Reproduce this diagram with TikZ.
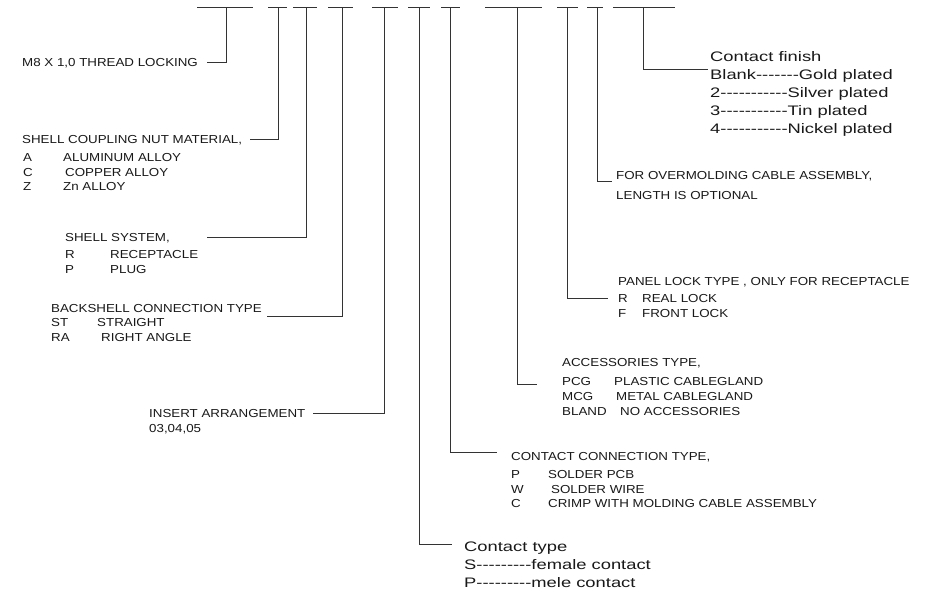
\documentclass[tikz,border=0pt]{standalone}
\usepackage{fontspec}
\newfontfamily\smf[FakeStretch=1.15]{Liberation Sans}
\newfontfamily\bgf[FakeStretch=1.33]{Liberation Sans}
\begin{document}
\begin{tikzpicture}[x=1pt,y=-1pt,
  lbl/.style={anchor=base west,inner sep=0pt,font=\smf\fontsize{11.6}{14}\selectfont,text=black!90},
  big/.style={anchor=base west,inner sep=0pt,font=\bgf\fontsize{13.8}{17}\selectfont,text=black!90},
  ln/.style={draw=black!80,line width=0.8pt}]
\useasboundingbox (0,0) rectangle (941,590);
\fill[white] (0,0) rectangle (941,590);
% top bars
\foreach \a/\b in {197/253,268/287,293/317,328/353,372/398,408/430,441/460,485/542,557/578,587/603,613/675}
  \draw[ln] (\a,7) -- (\b,7);
% stem tops
\coordinate (s1) at (226,7);
\coordinate (s2) at (278,7);
\coordinate (s3) at (306,7);
\coordinate (s4) at (342,7);
\coordinate (s5) at (384,7);
\coordinate (s6) at (419,7);
\coordinate (s7) at (450,7);
\coordinate (s8) at (517,7);
\coordinate (s9) at (567,7);
\coordinate (s10) at (597,7);
\coordinate (s11) at (643,7);
% ends
\coordinate (e1) at (207,62);
\coordinate (e2) at (250,139);
\coordinate (e3) at (207,237);
\coordinate (e4) at (267,316);
\coordinate (e5) at (313,413);
\coordinate (e6) at (452,544);
\coordinate (e7) at (497,452);
\coordinate (e8) at (537,384);
\coordinate (e9) at (608,298);
\coordinate (e10) at (612,181);
\coordinate (e11) at (708,69);
\foreach \i in {1,...,11} \draw[ln] (s\i) |- (e\i);
% labels group 1
\node[lbl] (m8) at (22,66) {M8 X 1,0 THREAD LOCKING};
\node[lbl] (scn) at (22,143) {SHELL COUPLING NUT MATERIAL,};
\node[lbl] (a1) at (23,161) {A};
\node[lbl] (a2) at (63,161) {ALUMINUM ALLOY};
\node[lbl] (c1) at (23,176) {C};
\node[lbl] (c2) at (65,176) {COPPER ALLOY};
\node[lbl] (z1) at (23,190) {Z};
\node[lbl] (z2) at (63,190) {Zn ALLOY};
% shell system
\node[lbl] (ss) at (65,241) {SHELL SYSTEM,};
\node[lbl] (r1) at (65,258) {R};
\node[lbl] (r2) at (110,258) {RECEPTACLE};
\node[lbl] (p1) at (65,273) {P};
\node[lbl] (p2) at (110,273) {PLUG};
% backshell
\node[lbl] (bs) at (51,312) {BACKSHELL CONNECTION TYPE};
\node[lbl] (st1) at (51,326) {ST};
\node[lbl] (st2) at (97,326) {STRAIGHT};
\node[lbl] (ra1) at (51,341) {RA};
\node[lbl] (ra2) at (101,341) {RIGHT ANGLE};
% insert
\node[lbl] (ia) at (149,417) {INSERT ARRANGEMENT};
\node[lbl] (ia2) at (149,432) {03,04,05};
% contact type
\node[big] (ct) at (464,551) {Contact type};
\node[big] (ct1) at (464,569) {S---------female contact};
\node[big] (ct2) at (464,587) {P---------mele contact};
% contact connection
\node[lbl] (cc) at (511,460) {CONTACT CONNECTION TYPE,};
\node[lbl] (cp1) at (511,478) {P};
\node[lbl] (cp2) at (548,478) {SOLDER PCB};
\node[lbl] (cw1) at (511,493) {W};
\node[lbl] (cw2) at (551,493) {SOLDER WIRE};
\node[lbl] (cc1) at (511,507) {C};
\node[lbl] (cc2) at (548,507) {CRIMP WITH MOLDING CABLE ASSEMBLY};
% accessories
\node[lbl] (ac) at (562,366) {ACCESSORIES TYPE,};
\node[lbl] (pc1) at (562,385) {PCG};
\node[lbl] (pc2) at (614,385) {PLASTIC CABLEGLAND};
\node[lbl] (mc1) at (562,400) {MCG};
\node[lbl] (mc2) at (616,400) {METAL CABLEGLAND};
\node[lbl] (bl1) at (562,415) {BLAND};
\node[lbl] (bl2) at (620,415) {NO ACCESSORIES};
% panel lock
\node[lbl] (pl) at (618,285) {PANEL LOCK TYPE , ONLY FOR RECEPTACLE};
\node[lbl] (pr1) at (618,302) {R};
\node[lbl] (pr2) at (642,302) {REAL LOCK};
\node[lbl] (pf1) at (618,317) {F};
\node[lbl] (pf2) at (642,317) {FRONT LOCK};
% overmolding
\node[lbl] (ov) at (616,179) {FOR OVERMOLDING CABLE ASSEMBLY,};
\node[lbl] (ov2) at (616,199) {LENGTH IS OPTIONAL};
% contact finish
\node[big] (cf) at (710,61) {Contact finish};
\node[big] (cf1) at (710,79) {Blank-------Gold plated};
\node[big] (cf2) at (710,97) {2-----------Silver plated};
\node[big] (cf3) at (710,115) {3-----------Tin plated};
\node[big] (cf4) at (710,133) {4-----------Nickel plated};
\end{tikzpicture}
\end{document}
